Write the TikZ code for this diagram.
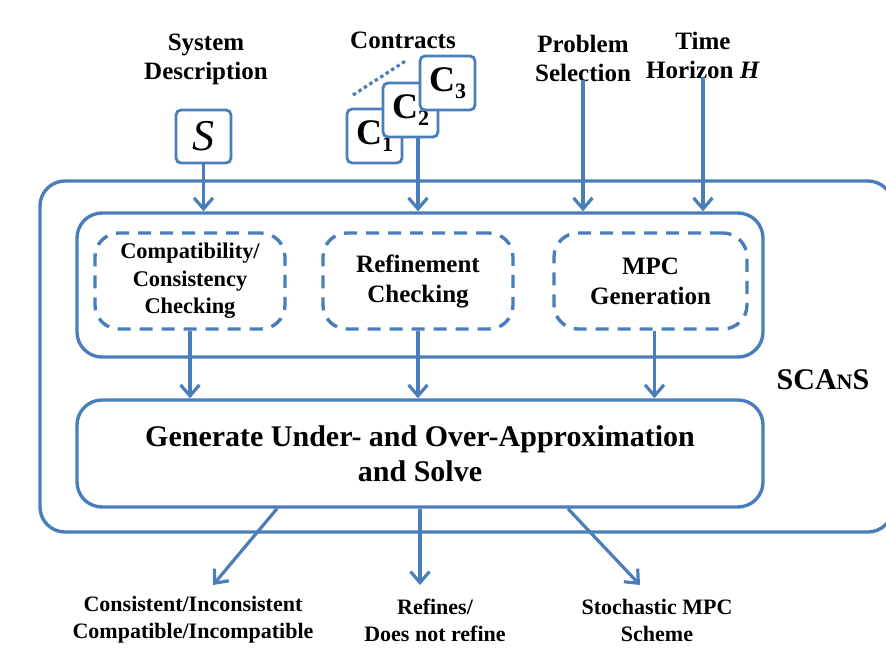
\documentclass[tikz,border=0pt]{standalone}
\usepackage{fontspec}
\setmainfont{Liberation Serif}
\usetikzlibrary{arrows.meta}
\definecolor{flowblue}{RGB}{74,126,187}
\begin{document}
\begin{tikzpicture}[x=1pt,y=-1pt,
  frame/.style={draw=flowblue, line width=3.4pt, rounded corners=25pt, inner sep=0pt},
  dashbox/.style={draw=flowblue, line width=3.4pt, rounded corners=24pt,
    dash pattern=on 13pt off 9pt, align=center, inner sep=0pt,
    minimum height=96pt, font=\bfseries\fontsize{25}{30}\selectfont},
  cbox/.style={draw=flowblue, line width=2.8pt, rounded corners=5pt, fill=white,
    minimum width=55pt, minimum height=54pt, inner sep=0pt,
    font=\bfseries\fontsize{36}{36}\selectfont},
  toplabel/.style={align=center, inner sep=2pt, font=\bfseries\fontsize{25}{29}\selectfont},
  outlabel/.style={align=center, inner sep=2pt, font=\bfseries\fontsize{22}{27}\selectfont},
  arr/.style={draw=flowblue, line width=3.2pt, -{Straight Barb[length=11pt,width=19pt]}},
]
\clip (0,0) rectangle (886,658);

% outer SCAnS frame (runs past the right edge)
\node[frame, minimum width=853pt, minimum height=351pt] (scans) at (466.5,356.5) {};
\node[font=\bfseries\fontsize{30}{30}\selectfont] (scanslabel) at (823,380)
  {SCA{\fontsize{22}{22}\selectfont N}S};

% checking stage
\node[frame, minimum width=686pt, minimum height=144pt] (inner) at (420,285) {};
\node[dashbox, minimum width=190pt, font=\bfseries\fontsize{22.4}{27.5}\selectfont] (compat) at (190,281)
  {Compatibility/\\Consistency\\Checking};
\node[dashbox, minimum width=190pt] (refine) at (418,281)
  {Refinement\\Checking};
\node[dashbox, minimum width=193pt] (mpc) at (650.5,281)
  {MPC\\Generation};

% solving stage
\node[frame, minimum width=686pt, minimum height=107pt, align=center,
  font=\bfseries\fontsize{30}{35}\selectfont] (solve) at (420,453.5)
  {Generate Under- and Over-Approximation\\and Solve};

% inputs
\node[toplabel] (sysdesc) at (206,59) {System\\Description};
\node[cbox, minimum height=53pt, font=\itshape\fontsize{44}{44}\selectfont] (sbox) at (203.5,136.5) {S};

\node[toplabel] (contracts) at (403,40) {Contracts};
\node[cbox] (c1) at (374.5,136) {C\raisebox{-7pt}{\fontsize{22}{22}\selectfont 1}};
\node[cbox] (c2) at (410.5,110) {C\raisebox{-7pt}{\fontsize{22}{22}\selectfont 2}};
\node[cbox] (c3) at (447.5,83)  {C\raisebox{-7pt}{\fontsize{22}{22}\selectfont 3}};
\coordinate (dotA) at (353,95);
\coordinate (dotB) at (407,60);
\draw[flowblue, line width=3.2pt, dash pattern=on 3.5pt off 3pt] (dotA) -- (dotB);

\node[toplabel] (probsel) at (583,58) {Problem\\Selection};
\node[toplabel] (horizon) at (703,55) {Time\\Horizon \textit{H}};

\draw[arr] (sbox.south) -- (sbox.south |- inner.north);
\draw[arr] (c2.south -| refine.north) -- (refine.north |- inner.north);
\draw[arr] ([yshift=3pt]probsel.south) -- (probsel.south |- inner.north);
\draw[arr] ([yshift=3pt]horizon.south) -- (horizon.south |- inner.north);

% checking -> solving
\draw[arr] (compat.south) -- (compat.south |- solve.north);
\draw[arr] (refine.south) -- (refine.south |- solve.north);
\draw[arr] ([xshift=4pt]mpc.south) -- ([xshift=4pt]mpc.south |- solve.north);

% outputs
\node[outlabel] (res1) at (193,620) {Consistent/Inconsistent\\Compatible/Incompatible};
\node[outlabel] (res2) at (435,620) {Refines/\\Does not refine};
\node[outlabel] (res3) at (657,620) {Stochastic MPC\\Scheme};
\coordinate (tip1) at (213,585);
\coordinate (tip2) at (420,585);
\coordinate (tip3) at (640,585);
\draw[arr] ([xshift=-143pt]solve.south) -- (tip1);
\draw[arr] (solve.south) -- (tip2);
\draw[arr] ([xshift=148pt]solve.south) -- (tip3);
\end{tikzpicture}
\end{document}
